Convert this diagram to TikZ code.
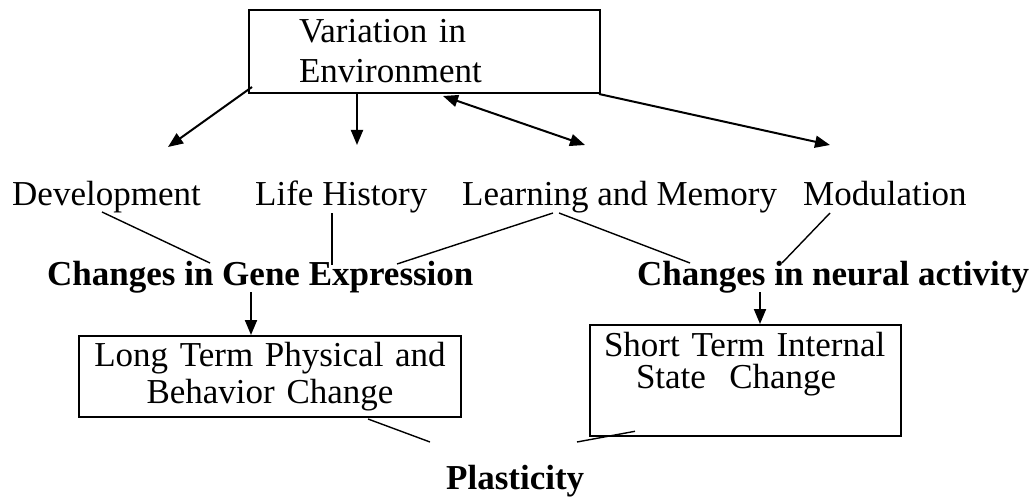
\documentclass[tikz,border=0pt]{standalone}
\usepackage{fontspec}
\setmainfont{Liberation Serif}
\usetikzlibrary{arrows.meta,calc}
\tikzset{
  envarr/.style={-{Triangle[length=15pt,width=12pt]},line width=2pt},
  bothar/.style={{Triangle[length=15pt,width=12pt]}-{Triangle[length=15pt,width=12pt]},line width=2pt},
  linkln/.style={line width=1.4pt},
  framebox/.style={draw,line width=2pt,rectangle,anchor=north west},
  lbl/.style={inner sep=0pt,anchor=base west,font=\fontsize{35}{40}\selectfont},
  hdr/.style={inner sep=0pt,anchor=base west,font=\fontsize{35}{40}\selectfont\bfseries}
}
\begin{document}
\begin{tikzpicture}[x=1pt,y=-1pt]
  \useasboundingbox (0,0) rectangle (1034,500);
  % top box
  \node[framebox,minimum width=351pt,minimum height=83pt,text width=251pt,
        inner xsep=50pt,align=left,font=\fontsize{35}{40}\selectfont]
    (env) at (248,9) {Variation in\\Environment};
  % the four kinds of variation
  \node[lbl] (dev)   at (12,205)  {Development};
  \node[lbl] (life)  at (255,205) {Life History};
  \node[lbl] (learn) at (462,205) {Learning and Memory};
  \node[lbl] (modu)  at (803,205) {Modulation};
  % what changes
  \node[hdr] (gene)   at (47,285)  {Changes in Gene Expression};
  \node[hdr] (neural) at (637,285) {Changes in neural activity};
  % outcome boxes
  \node[framebox,minimum width=382pt,minimum height=81pt,text width=362pt,
        inner xsep=10pt,inner ysep=6pt,align=center,font=\fontsize{35}{37}\selectfont]
    (longt) at (78,335) {Long Term Physical and\\Behavior Change};
  \node[framebox,text width=283pt,inner xsep=14pt,inner ysep=7pt,align=left,
        font=\fontsize{35}{32}\selectfont]
    (shortt) at (589,324)
    {Short Term Internal\\\hspace*{32pt}State\ \ Change\rule[-41pt]{0pt}{41pt}};
  \node[hdr] (plast) at (446,489) {Plasticity};
  % arrows out of the top box
  \draw[envarr] ($(env.south west)+(4,-7)$) -- ($(dev.base west)+(156,-58)$);
  \draw[envarr] ($(env.south west)+(109,0)$) -- ($(life.base west)+(102,-60)$);
  \draw[bothar] ($(env.south west)+(195,2)$) -- ($(learn.base west)+(123,-60)$);
  \draw[envarr] ($(env.south east)+(-2,0)$) -- ($(modu.base west)+(27,-60)$);
  % links to the two kinds of change
  \draw[linkln] ($(dev.base west)+(90,7)$)    -- ($(gene.base west)+(163,-22)$);
  \draw[linkln] ($(life.base west)+(77,8)$)   -- ($(gene.base west)+(285,-20)$);
  \draw[linkln] ($(learn.base west)+(91,8)$)  -- ($(gene.base west)+(350,-21)$);
  \draw[linkln] ($(learn.base west)+(97,8)$)  -- ($(neural.base west)+(53,-22)$);
  \draw[linkln] ($(modu.base west)+(27,8)$)   -- ($(neural.base west)+(145,-22)$);
  % down to the boxes
  \draw[envarr] ($(gene.base west)+(204,7)$)   -- ($(longt.north west)+(173,0)$);
  \draw[envarr] ($(neural.base west)+(123,7)$) -- ($(shortt.north west)+(171,0)$);
  % into plasticity
  \draw[linkln] ($(longt.south west)+(290,1)$) -- ($(plast.base west)+(-16,-47)$);
  \draw[linkln] ($(shortt.south west)+(46,-6)$) -- ($(plast.base west)+(131,-47)$);
\end{tikzpicture}
\end{document}
